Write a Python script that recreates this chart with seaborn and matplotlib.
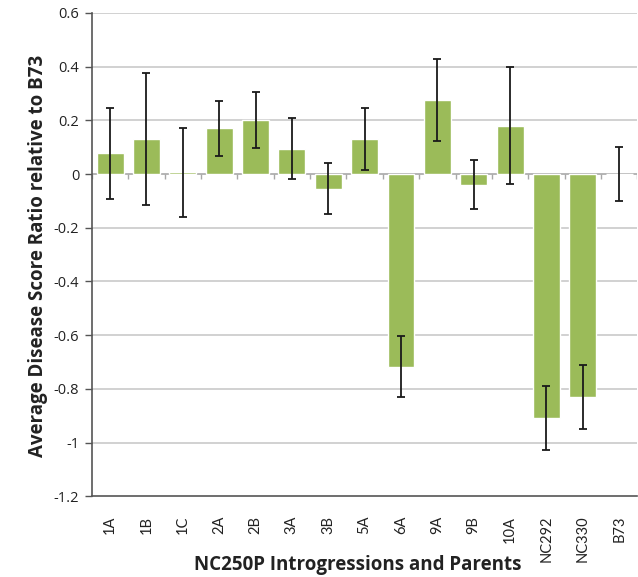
import numpy as np
import pandas as pd
import matplotlib
matplotlib.use("Agg")
import matplotlib.pyplot as plt
import seaborn as sns

# Introgression lines and parents
categories = ["1A", "1B", "1C", "2A", "2B", "3A", "3B", "5A", "6A", "9A",
              "9B", "10A", "NC292", "NC330", "B73"]
# Average disease score ratio relative to B73
ratio = [0.077, 0.130, 0.006, 0.171, 0.202, 0.094, -0.054, 0.130, -0.717,
         0.277, -0.039, 0.180, -0.909, -0.830, 0.0]
# Error bar half-widths
err = [0.170, 0.245, 0.165, 0.103, 0.105, 0.113, 0.096, 0.116, 0.112,
       0.153, 0.091, 0.218, 0.120, 0.120, 0.100]
yticks = [0.6, 0.4, 0.2, 0, -0.2, -0.4, -0.6, -0.8, -1, -1.2]
ytick_labels = ["0.6", "0.4", "0.2", "0", "-0.2", "-0.4", "-0.6", "-0.8", "-1", "-1.2"]

df = pd.DataFrame({"line": categories, "ratio": ratio, "err": err})

sns.set_theme(style="white")
plt.rcParams["font.family"] = ["Open Sans", "DejaVu Sans"]

fig = plt.figure(figsize=(6.38, 5.77), dpi=100)
ax = fig.add_axes([0.144, 0.14, 0.855, 0.8375])

bar_color = "#9BBB59"
grid_color = "#C9C9C9"

ax.set_ylim(-1.2, 0.6)
ax.set_xlim(-0.5, len(categories) - 0.5)
for y in yticks:
    if y not in (0, -1.2):
        ax.axhline(y, color=grid_color, lw=1.2, zorder=0)

sns.barplot(data=df, x="line", y="ratio", color=bar_color, saturation=1,
            width=0.74, ax=ax, zorder=2)

# category axis drawn along zero, with boundary ticks
ax.axhline(0, color="#A8A8A8", lw=1.2, zorder=1)
bounds = np.arange(len(categories) + 1) - 0.5
ax.vlines(bounds, -0.018, 0, color="#A8A8A8", lw=1.0, zorder=1)

ax.errorbar(np.arange(len(categories)), df["ratio"], yerr=df["err"],
            fmt="none", ecolor="#1a1a1a", elinewidth=1.3, capsize=3,
            capthick=1.3, zorder=3)

ax.set_yticks(yticks)
ax.set_yticklabels(ytick_labels, fontsize=10.5, color="#222222")
ax.set_xticks(np.arange(len(categories)))
ax.set_xticklabels(categories, rotation=90, fontsize=10.5, color="#222222",
                   family=["Lato", "DejaVu Sans"])
ax.tick_params(axis="y", which="both", left=True, length=5, width=1,
               color="#555555", pad=4)
ax.tick_params(axis="x", bottom=False, pad=8)

for side in ("top", "right"):
    ax.spines[side].set_visible(False)
for side in ("left", "bottom"):
    ax.spines[side].set_color("#555555")
    ax.spines[side].set_linewidth(1.2)

ax.set_xlabel("NC250P Introgressions and Parents", fontsize=13.5,
              fontweight="bold", color="#222222")
ax.set_ylabel("Average Disease Score Ratio relative to B73", fontsize=13.5,
              fontweight="bold", color="#222222")
# place axis titles in figure pixel terms
ax.xaxis.set_label_coords(0.56, 0.021, transform=fig.transFigure)
ax.xaxis.label.set_va("center")
ax.yaxis.set_label_coords(0.06, 0.556, transform=fig.transFigure)
ax.yaxis.label.set_va("center")

fig.savefig("out.png", dpi=100, facecolor="white")
